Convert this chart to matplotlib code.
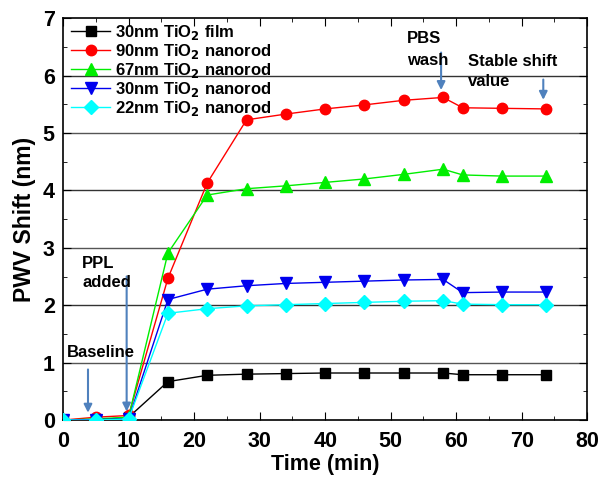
import matplotlib
matplotlib.use("Agg")
import matplotlib.pyplot as plt
from matplotlib.ticker import MultipleLocator

plt.rcParams['font.family'] = ['Liberation Sans', 'DejaVu Sans']
plt.rcParams['font.weight'] = 'bold'

time = [0, 5, 10, 16, 22, 28, 34, 40, 46, 52, 58, 61, 67, 73.7]
film30 = [0, 0, 0.05, 0.67, 0.78, 0.80, 0.81, 0.82, 0.82, 0.82, 0.82, 0.79, 0.79, 0.79]
rod90 = [0, 0.05, 0.08, 2.47, 4.13, 5.23, 5.33, 5.42, 5.49, 5.57, 5.62, 5.44, 5.43, 5.42]
rod67 = [0, 0.02, 0.05, 2.91, 3.92, 4.03, 4.08, 4.14, 4.20, 4.28, 4.37, 4.27, 4.25, 4.25]
rod30 = [0, 0.01, 0.02, 2.10, 2.28, 2.34, 2.38, 2.40, 2.42, 2.44, 2.45, 2.22, 2.23, 2.23]
rod22 = [0, 0, 0.02, 1.86, 1.94, 1.99, 2.01, 2.03, 2.05, 2.07, 2.08, 2.02, 2.01, 2.01]

labels = ["30nm TiO$_2$ film", "90nm TiO$_2$ nanorod", "67nm TiO$_2$ nanorod",
          "30nm TiO$_2$ nanorod", "22nm TiO$_2$ nanorod"]
series = [film30, rod90, rod67, rod30, rod22]
colors = ["black", "red", "#00ee00", "#0000ee", "cyan"]
markers = ["s", "o", "^", "v", "D"]
msizes = [7, 7.5, 8, 8, 7]

fig = plt.figure(figsize=(6.01, 4.79), dpi=100)
ax = fig.add_axes([0.105, 0.123, 0.872, 0.839])

for yv in [1, 2, 3, 4, 5, 6]:
    ax.axhline(yv, color="#333333" if yv % 2 == 0 else "#555555", lw=1.0, zorder=1)

for s, lab, c, m, ms in zip(series, labels, colors, markers, msizes):
    ax.plot(time, s, color=c, marker=m, ms=ms, mec=c, mfc=c, lw=1.0, label=lab, zorder=3)

ax.set_xlim(0, 80)
ax.set_ylim(0, 7)
ax.xaxis.set_major_locator(MultipleLocator(10))
ax.xaxis.set_minor_locator(MultipleLocator(5))
ax.yaxis.set_major_locator(MultipleLocator(1))
ax.yaxis.set_minor_locator(MultipleLocator(0.5))
ax.tick_params(which='both', direction='in', top=True, right=True)
ax.tick_params(which='major', length=6, labelsize=15.5)
ax.tick_params(which='minor', length=3)
ax.tick_params(axis='x', which='major', pad=8)
ax.tick_params(axis='y', which='major', pad=6)
for lab in ax.get_xticklabels() + ax.get_yticklabels():
    lab.set_fontweight('bold')
ax.set_xlabel("Time (min)", fontsize=15.5, fontweight='bold', labelpad=1)
ax.set_ylabel("PWV Shift (nm)", fontsize=16.5, fontweight='bold', labelpad=5)
for sp in ax.spines.values():
    sp.set_linewidth(1.2)

leg = ax.legend(loc='upper left', frameon=False, fontsize=12, handlelength=2.3,
                handletextpad=0.3, labelspacing=0.0, borderaxespad=0.1,
                bbox_to_anchor=(0.0, 1.01))
for t in leg.get_texts():
    t.set_fontweight('bold')

acol = "#4f81bd"
arrowprops = dict(arrowstyle="-|>", color=acol, lw=1.5, mutation_scale=12)
ax.annotate("", xy=(3.8, 0.08), xytext=(3.8, 0.93), arrowprops=arrowprops)
ax.annotate("", xy=(9.7, 0.1), xytext=(9.7, 2.55), arrowprops=arrowprops)
ax.annotate("", xy=(57.7, 5.7), xytext=(57.7, 6.45), arrowprops=arrowprops)
ax.annotate("", xy=(73.3, 5.53), xytext=(73.3, 5.98), arrowprops=arrowprops)

tk = dict(fontsize=12, fontweight='bold', color='black', va='center', ha='left')
ax.text(0.5, 1.17, "Baseline", **tk)
ax.text(2.9, 2.73, "PPL", **tk)
ax.text(2.9, 2.4, "added", **tk)
ax.text(52.5, 6.65, "PBS", **tk)
ax.text(52.5, 6.27, "wash", **tk)
ax.text(61.8, 6.24, "Stable shift", **tk)
ax.text(61.8, 5.89, "value", **tk)

fig.savefig("out.png", dpi=100)
